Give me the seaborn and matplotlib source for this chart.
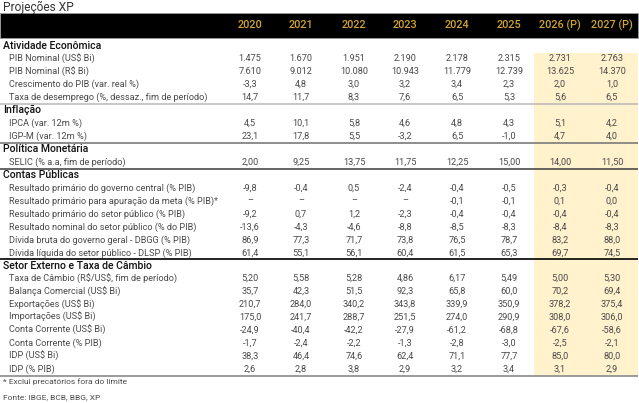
import matplotlib
matplotlib.use("Agg")
import matplotlib.pyplot as plt
import seaborn as sns

sns.set_theme(style="white")
plt.rcParams['font.family'] = ['Roboto', 'DejaVu Sans']

title = "Projeções XP"
years = ["2020", "2021", "2022", "2023", "2024", "2025", "2026 (P)", "2027 (P)"]

sec_atividade = "Atividade Econômica"
lab_atividade = ["PIB Nominal (US$ Bi)", "PIB Nominal (R$ Bi)",
                 "Crescimento do PIB (var. real %)",
                 "Taxa de desemprego (%, dessaz., fim de período)"]
val_atividade = [
    ["1.475", "1.670", "1.951", "2.190", "2.178", "2.315", "2.731", "2.763"],
    ["7.610", "9.012", "10.080", "10.943", "11.779", "12.739", "13.625", "14.370"],
    ["-3,3", "4,8", "3,0", "3,2", "3,4", "2,3", "2,0", "1,0"],
    ["14,7", "11,7", "8,3", "7,6", "6,5", "5,3", "5,6", "6,5"],
]
sec_inflacao = "Inflação"
lab_inflacao = ["IPCA (var. 12m %)", "IGP-M (var. 12m %)"]
val_inflacao = [
    ["4,5", "10,1", "5,8", "4,6", "4,8", "4,3", "5,1", "4,2"],
    ["23,1", "17,8", "5,5", "-3,2", "6,5", "-1,0", "4,7", "4,0"],
]
sec_monetaria = "Política Monetária"
lab_monetaria = ["SELIC (% a.a, fim de período)"]
val_monetaria = [
    ["2,00", "9,25", "13,75", "11,75", "12,25", "15,00", "14,00", "11,50"],
]
sec_publicas = "Contas Públicas"
lab_publicas = ["Resultado primário do governo central (% PIB)",
                "Resultado primário para apuração da meta (% PIB)*",
                "Resultado primário do setor público (% PIB)",
                "Resultado nominal do setor público (% do PIB)",
                "Dívida bruta do governo geral - DBGG (% PIB)",
                "Dívida líquida do setor público - DLSP (% PIB)"]
val_publicas = [
    ["-9,8", "-0,4", "0,5", "-2,4", "-0,4", "-0,5", "-0,3", "-0,4"],
    ["–", "–", "–", "–", "-0,1", "-0,1", "0,1", "0,0"],
    ["-9,2", "0,7", "1,2", "-2,3", "-0,4", "-0,4", "-0,4", "-0,4"],
    ["-13,6", "-4,3", "-4,6", "-8,8", "-8,5", "-8,3", "-8,4", "-8,3"],
    ["86,9", "77,3", "71,7", "73,8", "76,5", "78,7", "83,2", "88,0"],
    ["61,4", "55,1", "56,1", "60,4", "61,5", "65,3", "69,7", "74,5"],
]
sec_externo = "Setor Externo e Taxa de Câmbio"
lab_externo = ["Taxa de Câmbio (R$/US$, fim de período)", "Balança Comercial (US$ Bi)",
               "Exportações (US$ Bi)", "Importações (US$ Bi)",
               "Conta Corrente (US$ Bi)", "Conta Corrente (% PIB)",
               "IDP (US$ Bi)", "IDP (% PIB)"]
val_externo = [
    ["5,20", "5,58", "5,28", "4,86", "6,17", "5,49", "5,00", "5,30"],
    ["35,7", "42,3", "51,5", "92,3", "65,8", "60,0", "70,2", "69,4"],
    ["210,7", "284,0", "340,2", "343,8", "339,9", "350,9", "378,2", "375,4"],
    ["175,0", "241,7", "288,7", "251,5", "274,0", "290,9", "308,0", "306,0"],
    ["-24,9", "-40,4", "-42,2", "-27,9", "-61,2", "-68,8", "-67,6", "-58,6"],
    ["-1,7", "-2,4", "-2,2", "-1,3", "-2,8", "-3,0", "-2,5", "-2,1"],
    ["38,3", "46,4", "74,6", "62,4", "71,1", "77,7", "85,0", "80,0"],
    ["2,6", "2,8", "3,8", "2,9", "3,2", "3,4", "3,1", "2,9"],
]
footnote = "* Exclui precatórios fora do limite"
source = "Fonte: IBGE, BCB, BBG, XP"

sections = [
    (sec_atividade, lab_atividade, val_atividade, "#bdbdbd"),
    (sec_inflacao, lab_inflacao, val_inflacao, "#7a7a7a"),
    (sec_monetaria, lab_monetaria, val_monetaria, "#4a4a4a"),
    (sec_publicas, lab_publicas, val_publicas, "#000000"),
    (sec_externo, lab_externo, val_externo, "#8a8a8a"),
]

W, H = 639, 403
fig = plt.figure(figsize=(W / 100, H / 100), dpi=100)
ax = fig.add_axes([0, 0, 1, 1])
ax.set_xlim(0, W)
ax.set_ylim(H, 0)
ax.axis("off")

col_x = [250, 301, 354, 405, 457, 509, 560, 612]
y0, dy = 45.7, 12.94
gold = "#d0a530"
txt = "#4a4a4a"
fs = 6.6

def put(x, y, s, **kw):
    ax.text(x, y, s, va="center", parse_math=False, **kw)

# title
put(3, 7.3, title, fontsize=8.6, color="#333333", ha="left")

# header band
ax.add_patch(plt.Rectangle((0, 13), 638, 24.5, facecolor="black", edgecolor="#9a9a9a", lw=0.6))
for x, yr in zip(col_x, years):
    put(x, 25.3, yr, fontsize=7.8, color=gold, ha="center", fontweight="medium")

# highlight forecast columns
n_rows = sum(1 + len(s[1]) for s in sections)
ax.add_patch(plt.Rectangle((534, 52.5), 104, y0 + (n_rows - 0.5) * dy - 52.5,
                           facecolor="#fff2cc", edgecolor="none", zorder=0))

row = 0
for name, labels, vals, lc in sections:
    y = y0 + row * dy
    put(3, y, name, fontsize=7.6, color="#111111", ha="left", fontweight="medium")
    row += 1
    for lab, vv in zip(labels, vals):
        y = y0 + row * dy
        put(9, y, lab, fontsize=fs, color=txt, ha="left")
        for x, v in zip(col_x, vv):
            put(x, y, v, fontsize=fs, color=txt, ha="center")
        row += 1
    yl = y0 + (row - 0.5) * dy
    ax.plot([0, 638], [yl, yl], color=lc, lw=1.2, solid_capstyle="butt", zorder=2)

put(3, 381.7, footnote, fontsize=6.0, color=txt, ha="left")
put(3, 396.7, source, fontsize=6.0, color=txt, ha="left")

fig.savefig("out.png", dpi=100, facecolor="white")
